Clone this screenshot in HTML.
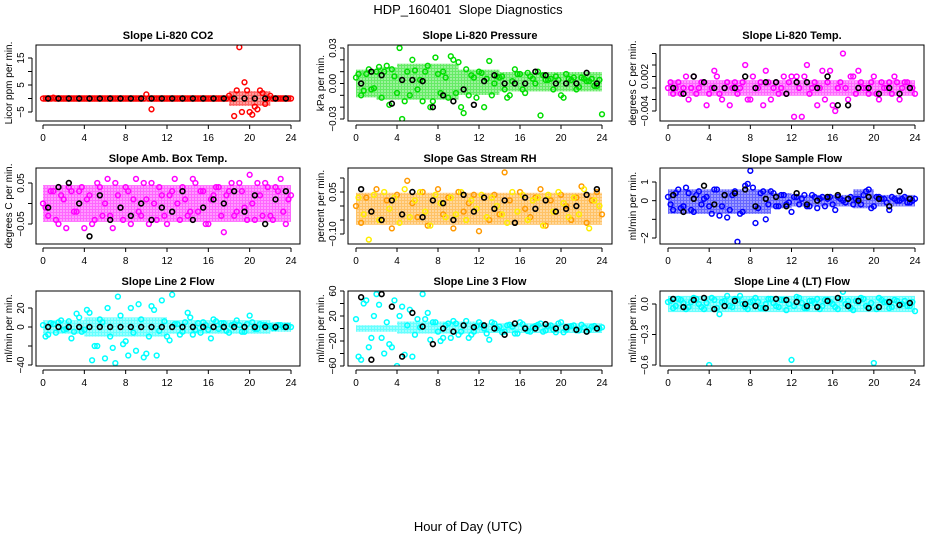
<!DOCTYPE html>
<html><head><meta charset="utf-8"><style>
html,body{margin:0;padding:0;background:#fff;}
svg{display:block;font-family:"Liberation Sans",Arial,sans-serif;}
</style></head><body>
<svg id="chart" width="936" height="540" viewBox="0 0 936 540">
<defs>
<pattern id="speck" width="3" height="3" patternUnits="userSpaceOnUse"><rect width="2" height="2" fill="#fff" opacity="0.35"/></pattern>
</defs>
<text x="468" y="14" text-anchor="middle" font-size="13">HDP_160401&#160; Slope Diagnostics</text>
<text x="468" y="531" text-anchor="middle" font-size="13">Hour of Day (UTC)</text>
<g id="panels"></g>
</svg>
<script>
const hoursA=[0,0.5,1,1.5,2,2.5,3,3.5,4,4.5,5,5.5,6,6.5,7,7.5,8,8.5,9,9.5,10,10.5,11,11.5,12,12.5,13,13.5,14,14.5,15,15.5,16,16.5,17,17.5,18,18.5,19,19.5,20,20.5,21,21.5,22,22.5,23,23.5,24];
const hoursB=[0.25,0.75,1.25,1.75,2.25,2.75,3.25,3.75,4.25,4.75,5.25,5.75,6.25,6.75,7.25,7.75,8.25,8.75,9.25,9.75,10.25,10.75,11.25,11.75,12.25,12.75,13.25,13.75,14.25,14.75,15.25,15.75,16.25,16.75,17.25,17.75,18.25,18.75,19.25,19.75,20.25,20.75,21.25,21.75,22.25,22.75,23.25,23.75];
const hoursBlack=[0.5,1.5,2.5,3.5,4.5,5.5,6.5,7.5,8.5,9.5,10.5,11.5,12.5,13.5,14.5,15.5,16.5,17.5,18.5,19.5,20.5,21.5,22.5,23.5];
const binStarts=[0,2,4,6,8,10,12,14,16,18,20,22];
const xTicks=[0,4,8,12,16,20,24];

const co2A=[0,0,0.3,0,0,0,0,0,0,0,0,0,0,0,0,0,0,0,0,0,1.5,-4,0,0,0,0,0,0,0,0,0,0,0,0,0,0,1,-6.5,19,6,-5,-3,3,-2,1,0,0,0,0];
const co2B=[0,0,0,0,0,0,0,0,0,0,0,0,0,0,0,0,0,0,0,0,0,0,0,0,0,0,0,0,0,0,0,0,0,0,0,0,0,3,-5,3,-6,-4,2,0,0,0,0,0];
const co2K=[0,0,0,0,0,0,0,0,0,0,0,0,0,0,0,0,0,0,0,0,0,0,0,0];
const co2Lo=[-0.5,-0.5,-0.5,-0.5,-0.5,-0.5,-0.5,-0.5,-0.5,-2,-2,-0.5];
const co2Hi=[0.5,0.5,0.5,0.5,0.5,0.5,0.5,0.5,0.5,2,2,0.5];

const presA=[0.005,-0.01,0.008,-0.005,0.01,-0.012,0.015,0.012,-0.008,-0.03,0.01,0.02,-0.005,-0.015,0.015,-0.015,0.008,0.01,-0.012,0.02,0.018,-0.025,-0.01,0.005,0.01,-0.02,0.019,0,0.005,-0.005,-0.01,0.012,0.008,-0.008,0.006,0,-0.027,0.003,0.004,0.006,-0.01,0.008,0.003,-0.005,0.005,0.002,0.004,-0.002,-0.026];
const presB=[0.008,-0.006,0.012,-0.004,0.014,0.01,-0.018,0.006,0.03,-0.015,-0.01,0.011,0.003,0.01,-0.02,0.022,-0.008,0.005,0.023,-0.008,-0.02,0.012,0.007,-0.012,0.009,0.004,-0.01,0.006,0.006,-0.012,0.002,0.008,-0.005,0.009,0.004,0.01,0.007,0.003,-0.005,0.003,-0.012,0.004,0.005,-0.003,0.004,0.002,-0.002,0.003];
const presK=[0,0.01,0.007,-0.017,0.003,0.003,0.002,-0.02,-0.01,-0.015,-0.005,-0.018,0.002,0.007,0,0,0,0.01,0.007,0,0,0,0.009,0];
const presLo=[-0.01,-0.012,-0.012,-0.012,-0.012,-0.008,-0.008,-0.005,-0.005,-0.005,-0.005,-0.005];
const presHi=[0.01,0.012,0.015,0.015,0.015,0.01,0.01,0.008,0.008,0.008,0.008,0.008];

const ltA=[0,-0.001,0.001,0,-0.002,0.002,0,0.001,-0.001,0.003,-0.001,0,-0.003,0.001,0,0.004,-0.002,0,0.001,0.003,-0.002,0.001,0,-0.001,0.002,0.002,-0.005,0.004,0,-0.003,0.003,0.001,-0.003,0,0.006,-0.002,0.002,0.003,0,-0.001,0.002,-0.002,0,0.001,0.002,-0.002,0.001,0,-0.001];
const ltB=[0.001,0,-0.001,0.002,0,-0.001,0.001,-0.003,0,0.002,-0.002,0.001,0,-0.001,0.001,-0.002,0.002,0,-0.003,0.001,0,-0.001,0.002,0.001,-0.005,0,0.002,-0.001,0.001,0,-0.002,0.003,-0.004,0.001,0,0.002,-0.001,0.001,0,0.001,-0.001,0.001,0,-0.001,0.001,0,0.001,0];
const ltK=[0,-0.001,0.002,0.001,0,0,0,0.002,0,0.001,0.001,-0.001,0.001,0.001,0,0.002,-0.003,-0.003,0,0,-0.001,0,-0.001,0];
const ltLo=[-0.001,-0.001,-0.001,-0.001,-0.001,-0.001,-0.001,-0.001,-0.001,-0.001,-0.001,-0.001];
const ltHi=[0.001,0.001,0.001,0.001,0.001,0.001,0.001,0.001,0.001,0.001,0.001,0.001];

const ambA=[0,-0.03,0.03,-0.05,0.01,0.04,-0.02,0.03,-0.06,0.02,-0.04,0.04,0,-0.03,0.05,-0.01,0.04,-0.05,0.06,-0.03,0.01,0.05,-0.04,0.02,-0.05,0.03,0,0.04,-0.03,0.06,-0.02,0.03,-0.05,0.02,0.04,-0.07,0.03,-0.03,0.05,-0.01,0.07,-0.04,0.02,0.05,-0.03,0.04,0.06,-0.05,0.02];
const ambB=[-0.01,0.03,-0.04,0.02,-0.06,0.03,-0.02,0.04,0.01,-0.05,0.05,-0.03,0.06,-0.06,0.02,-0.04,0.03,0.01,-0.02,0.05,-0.05,0,0.04,-0.03,0.02,0.06,-0.04,0.01,-0.02,0.05,0.03,-0.05,0.01,0.04,-0.03,0.02,0.05,-0.02,0.03,-0.04,0,0.05,-0.03,0.04,-0.04,0.03,-0.02,0.01];
const ambK=[-0.01,0.04,0.05,0,-0.08,0.02,-0.04,-0.01,-0.03,0,-0.04,-0.01,-0.02,0.03,-0.04,-0.01,0.01,0,0.03,-0.02,0.02,-0.05,0.01,0.03];
const ambLo=[-0.04,-0.04,-0.04,-0.04,-0.04,-0.04,-0.04,-0.04,-0.04,-0.04,-0.04,-0.04];
const ambHi=[0.04,0.04,0.04,0.04,0.04,0.04,0.04,0.04,0.04,0.04,0.04,0.04];

const rhA=[0,-0.06,0.03,-0.02,0.06,-0.05,0.02,-0.08,0.04,-0.03,0.09,0.01,-0.04,0.05,-0.07,0.02,0.06,-0.03,0.03,-0.08,0.05,-0.02,0.01,0.04,-0.09,0.03,-0.05,0.04,-0.03,0.12,0.02,-0.06,0.05,-0.01,-0.04,0.03,0.06,-0.07,0.02,-0.02,0.04,0,-0.05,0.03,0.07,-0.06,0.02,0.05,-0.03];
const rhB=[0.03,-0.03,-0.12,0.04,-0.05,0.05,-0.01,0.03,-0.06,0.06,-0.04,0.02,0.05,-0.02,-0.07,0.04,0.01,-0.04,0.03,-0.03,0.05,-0.05,0.02,-0.01,0.04,-0.04,0.03,0,-0.03,-0.06,0.05,-0.02,0.04,-0.05,0.02,0.03,-0.07,0.04,-0.02,0.05,0.01,-0.04,0.03,-0.03,0.06,-0.08,0.02,0];
const rhK=[0.06,-0.02,-0.05,0.02,-0.03,0.05,-0.04,0.02,0.01,-0.05,0.04,-0.02,0.03,-0.01,0.02,-0.06,0.03,-0.01,0.02,-0.02,-0.01,0,0.04,0.06];
const rhLo=[-0.06,-0.06,-0.06,-0.06,-0.06,-0.06,-0.06,-0.06,-0.06,-0.06,-0.06,-0.06];
const rhHi=[0.04,0.04,0.04,0.04,0.04,0.04,0.04,0.04,0.04,0.04,0.04,0.04];

const sfA=[0.2,-0.5,0.6,-0.3,0.4,-0.6,0.5,0.1,-0.3,0.6,-0.8,0.3,-0.5,0.5,-0.7,0.8,1.6,-1.2,0.4,-1,0.5,-0.3,0.3,-0.2,-0.6,0.2,0.1,-0.3,0.3,-0.4,0.2,0.1,-0.2,0.2,0,0.1,-0.2,0.1,0.3,0.6,-0.3,0.2,0.1,-0.5,0.1,0,0.2,-0.1,0.1];
const sfB=[-0.2,0.4,-0.4,0.7,-0.5,0.3,-0.2,0.2,-0.7,0.6,-0.3,-0.9,0.3,-2.2,-0.6,0.9,0.7,-0.4,0.5,-0.2,0.4,-0.3,0.3,-0.1,0.2,-0.2,0.3,-0.3,0.2,0.1,-0.3,0.2,-0.5,0.1,-0.1,0.2,0.1,-0.2,0.5,-0.4,0.2,0.1,-0.1,0.2,0,0.1,-0.1,0];
const sfK=[0.3,-0.6,0.1,0.8,-0.2,0.3,0.4,0.6,-0.3,0.1,0.2,-0.3,0.4,-0.2,0,0.2,0.3,0.1,0,0.2,0.1,-0.3,0.5,0.1];
const sfLo=[-0.6,-0.6,-0.6,-0.6,-0.6,-0.3,-0.2,-0.2,-0.2,-0.3,-0.2,-0.2];
const sfHi=[0.5,0.5,0.5,0.5,0.5,0.3,0.2,0.2,0.2,0.5,0.2,0.2];

const l2A=[2,-8,3,5,-3,6,-5,10,-3,15,-20,8,-33,-10,-38,12,-15,20,-25,8,-28,22,-30,28,-10,34,3,-5,15,-8,4,5,-3,8,-2,4,-6,3,2,-5,12,-2,3,2,1,-1,2,1,0];
const l2B=[-10,4,-6,7,-2,-12,14,-5,18,-35,-20,5,20,-22,32,-18,-30,-6,24,-32,-10,18,-4,6,-14,3,-8,5,10,-3,-6,2,-12,6,4,-4,2,7,-5,3,5,-2,2,1,-1,2,0,1];
const l2K=[0,0,0,0,0,0,0,0,0,0,0,0,0,0,0,0,0,0,0,0,0,0,0,0];
const l2Lo=[-5,-5,-8,-8,-8,-8,-5,-5,-5,-5,-5,-3];
const l2Hi=[5,5,8,8,8,8,5,5,5,5,5,3];

const l3A=[15,-50,45,-15,55,-15,10,-30,-60,35,5,-45,15,55,25,10,-5,-15,8,12,-10,5,-15,-5,10,0,-18,8,3,-5,6,-8,10,2,-5,4,8,-3,5,-6,10,-2,4,-3,6,-5,3,0,2];
const l3B=[-45,40,-30,20,38,-40,-25,45,20,-42,30,-10,2,15,-18,10,-20,5,-15,8,-5,12,-10,4,6,-8,10,0,-6,5,3,-8,7,-4,2,6,-5,4,-2,8,-6,3,5,-3,2,-2,4,0];
const l3K=[50,-50,55,35,-45,25,3,-25,0,-5,5,2,5,0,-10,8,0,0,7,0,2,-2,-5,0];
const l3Lo=[-2,-2,-5,-5,-5,-5,-4,-4,-4,-4,-4,-4];
const l3Hi=[2,2,8,8,8,8,5,5,5,5,5,5];

const l4A=[0.02,-0.04,0.05,0.01,-0.03,0.06,0,-0.05,-0.6,0.04,-0.1,0.03,-0.02,0.05,0.08,-0.03,0.02,0.06,-0.04,0,0.05,-0.02,0.04,-0.06,-0.55,0.07,0.01,-0.04,0.03,0.05,-0.02,0.04,0,-0.05,0.12,0.03,-0.06,0.02,0.05,-0.03,-0.58,0.06,0.02,-0.04,0.04,0,0.03,-0.02,-0.07];
const l4B=[0.03,-0.02,0.04,-0.05,0.02,0.05,-0.03,0.01,0.06,-0.04,0.02,0.08,-0.03,0.04,0,-0.05,0.03,0.02,-0.04,0.05,0.01,-0.03,0.04,0,-0.02,0.06,-0.04,0.03,0.01,-0.05,0.04,0.02,-0.03,0.05,0,-0.04,0.03,0.06,-0.02,0.01,-0.05,0.04,0.02,-0.03,0.03,0,-0.02,0.02];
const l4K=[0.05,-0.03,0.04,0.06,-0.05,-0.02,0.03,0,-0.02,-0.04,0.05,0.04,0.02,-0.02,-0.03,0.03,0.06,-0.02,0.03,-0.04,-0.03,0.02,-0.01,0.01];
const l4Lo=[-0.06,-0.06,-0.06,-0.06,-0.06,-0.06,-0.06,-0.06,-0.06,-0.06,-0.06,-0.06];
const l4Hi=[0.06,0.06,0.06,0.06,0.06,0.06,0.06,0.06,0.06,0.06,0.06,0.06];

const NS='http://www.w3.org/2000/svg';
const cols=[{l:36,r:300,x0:43,x24:291,lab:9},{l:348,r:612,x0:356,x24:602,lab:321},{l:660,r:924,x0:668,x24:915,lab:633}];
const rows=[{t:45,b:121},{t:168,b:244},{t:291,b:366}];
const panels=[
 {name:'li820-co2',title:'Slope Li-820 CO2',yl:'Licor ppm per min.',c:0,r:0,v0:15,p0:58,v1:-5,p1:112,ticks:[-5,0,5,10,15],labs:[-5,5,15],fmt:v=>String(v).replace('-','\u2212'),A:co2A,B:co2B,K:co2K,lo:co2Lo,hi:co2Hi,col:'#ff0000',colB:'#ff0000'},
 {name:'li820-pressure',title:'Slope Li-820 Pressure',yl:'kPa per min.',c:1,r:0,v0:0.03,p0:48,v1:-0.03,p1:119,ticks:[-0.03,-0.02,-0.01,0,0.01,0.02,0.03],labs:[-0.03,0,0.03],fmt:v=>v.toFixed(2).replace('-','\u2212'),A:presA,B:presB,K:presK,lo:presLo,hi:presHi,col:'#00dd00',colB:'#00dd00'},
 {name:'li820-temp',title:'Slope Li-820 Temp.',yl:'degrees C per min.',c:2,r:0,v0:0,p0:88,v1:0.002,p1:76.5,ticks:[-0.004,-0.002,0,0.002,0.004,0.006],labs:[-0.004,0.002],fmt:v=>v.toFixed(3).replace('-','\u2212'),A:ltA,B:ltB,K:ltK,lo:ltLo,hi:ltHi,col:'#ff00ff',colB:'#ff00ff'},
 {name:'amb-box-temp',title:'Slope Amb. Box Temp.',yl:'degrees C per min.',c:0,r:1,v0:0.05,p0:183,v1:-0.05,p1:224,ticks:[-0.05,0,0.05],labs:[-0.05,0.05],fmt:v=>v.toFixed(2).replace('-','\u2212'),A:ambA,B:ambB,K:ambK,lo:ambLo,hi:ambHi,col:'#ff00ff',colB:'#ff00ff'},
 {name:'gas-stream-rh',title:'Slope Gas Stream RH',yl:'percent per min.',c:1,r:1,v0:0.05,p0:192,v1:-0.1,p1:234,ticks:[-0.1,-0.05,0,0.05,0.1],labs:[-0.1,0.05],fmt:v=>v.toFixed(2).replace('-','\u2212'),A:rhA,B:rhB,K:rhK,lo:rhLo,hi:rhHi,col:'#ff9900',colB:'#ffee00'},
 {name:'sample-flow',title:'Slope Sample Flow',yl:'ml/min per min.',c:2,r:1,v0:1,p0:182,v1:-2,p1:238,ticks:[-2,-1,0,1],labs:[-2,0,1],fmt:v=>String(v).replace('-','\u2212'),A:sfA,B:sfB,K:sfK,lo:sfLo,hi:sfHi,col:'#0000ff',colB:'#0000ff'},
 {name:'line2-flow',title:'Slope Line 2 Flow',yl:'ml/min per min.',c:0,r:2,v0:20,p0:308,v1:-40,p1:365,ticks:[-40,-20,0,20],labs:[-40,0,20],fmt:v=>String(v).replace('-','\u2212'),A:l2A,B:l2B,K:l2K,lo:l2Lo,hi:l2Hi,col:'#00ffff',colB:'#00ffff'},
 {name:'line3-flow',title:'Slope Line 3 Flow',yl:'ml/min per min.',c:1,r:2,v0:60,p0:291,v1:-60,p1:366,ticks:[-60,-40,-20,0,20,40,60],labs:[-60,-20,20,60],fmt:v=>String(v).replace('-','\u2212'),A:l3A,B:l3B,K:l3K,lo:l3Lo,hi:l3Hi,col:'#00ffff',colB:'#00ffff'},
 {name:'line4-flow',title:'Slope Line 4 (LT) Flow',yl:'ml/min per min.',c:2,r:2,v0:0,p0:304,v1:-0.6,p1:365,ticks:[-0.6,-0.3,0],labs:[-0.6,-0.3,0],fmt:v=>v.toFixed(1).replace('-','\u2212'),A:l4A,B:l4B,K:l4K,lo:l4Lo,hi:l4Hi,col:'#00ffff',colB:'#00ffff'}
];
function mk(tag,attrs,parent){const e=document.createElementNS(NS,tag);for(const k in attrs)e.setAttribute(k,attrs[k]);parent.appendChild(e);return e;}
const root=document.getElementById('panels');
panels.forEach(p=>{
 const C=cols[p.c],R=rows[p.r];
 const xs=h=>C.x0+(C.x24-C.x0)*h/24;
 const ys=v=>p.p0+(p.p1-p.p0)*(v-p.v0)/(p.v1-p.v0);
 const g=mk('g',{},root);
 
 
 const t=mk('text',{x:(C.l+C.r)/2,y:R.t-6,'text-anchor':'middle','font-size':'11','font-weight':'bold'},g);
 t.textContent=p.title;
 
 
 const my=(R.t+R.b)/2;
 const yl=mk('text',{x:C.lab,y:my,'text-anchor':'middle','font-size':'10',transform:`rotate(-90 ${C.lab} ${my})`,dy:'3'},g);
 yl.textContent=p.yl;
 
 
 const cid='clip-'+p.name;
 const cp=mk('clipPath',{id:cid},g);mk('rect',{x:C.l,y:R.t,width:C.r-C.l,height:R.b-R.t},cp);
 const pg=mk('g',{'clip-path':`url(#${cid})`},g);
 binStarts.forEach((b,i)=>{
  const y1=ys(p.hi[i]),y2=ys(p.lo[i]);
  const attrs={x:xs(b),y:Math.min(y1,y2)-2,width:xs(b+2)-xs(b),height:Math.abs(y2-y1)+4};
  const band=mk('rect',Object.assign({fill:p.col,opacity:'0.6'},attrs),pg);
  
  
  mk('rect',Object.assign({fill:'url(#speck)'},attrs),pg);
 });
 p.A.forEach((v,i)=>{
  const c=mk('circle',{cx:xs(hoursA[i]),cy:ys(v),r:2.4,fill:'none',stroke:p.col,'stroke-width':1.5},pg);
  
  
 });
 p.B.forEach((v,i)=>{
  const c=mk('circle',{cx:xs(hoursB[i]),cy:ys(v),r:2.4,fill:'none',stroke:p.colB,'stroke-width':1.5},pg);
  
  
 });
 p.K.forEach((v,i)=>{
  const c=mk('circle',{cx:xs(hoursBlack[i]),cy:ys(v),r:2.4,fill:'none',stroke:'#000','stroke-width':1.6},pg);
  
  
 });
 const box=mk('rect',{x:C.l,y:R.t,width:C.r-C.l,height:R.b-R.t,fill:'none',stroke:'#000','stroke-width':1},g);
 
 
 const ay=R.b+4;
 mk('line',{x1:xs(0),x2:xs(24),y1:ay,y2:ay,stroke:'#000'},g);
 xTicks.forEach(h=>{
  mk('line',{x1:xs(h),x2:xs(h),y1:ay,y2:ay+4,stroke:'#000'},g);
  const tl=mk('text',{x:xs(h),y:ay+16,'text-anchor':'middle','font-size':'10'},g);
  tl.textContent=h;
  
  
 });
 const ax=C.l-4;
 const ty=p.ticks.map(ys);
 mk('line',{x1:ax,x2:ax,y1:Math.min(...ty),y2:Math.max(...ty),stroke:'#000'},g);
 p.ticks.forEach(v=>mk('line',{x1:ax,x2:ax-4,y1:ys(v),y2:ys(v),stroke:'#000'},g));
 p.labs.forEach(v=>{
  const lx=ax-8,lyy=ys(v);
  const tl=mk('text',{x:lx,y:lyy,'text-anchor':'middle','font-size':'10',transform:`rotate(-90 ${lx} ${lyy})`},g);
  tl.textContent=p.fmt(v);
  
  
 });
});
</script>
</body></html>
